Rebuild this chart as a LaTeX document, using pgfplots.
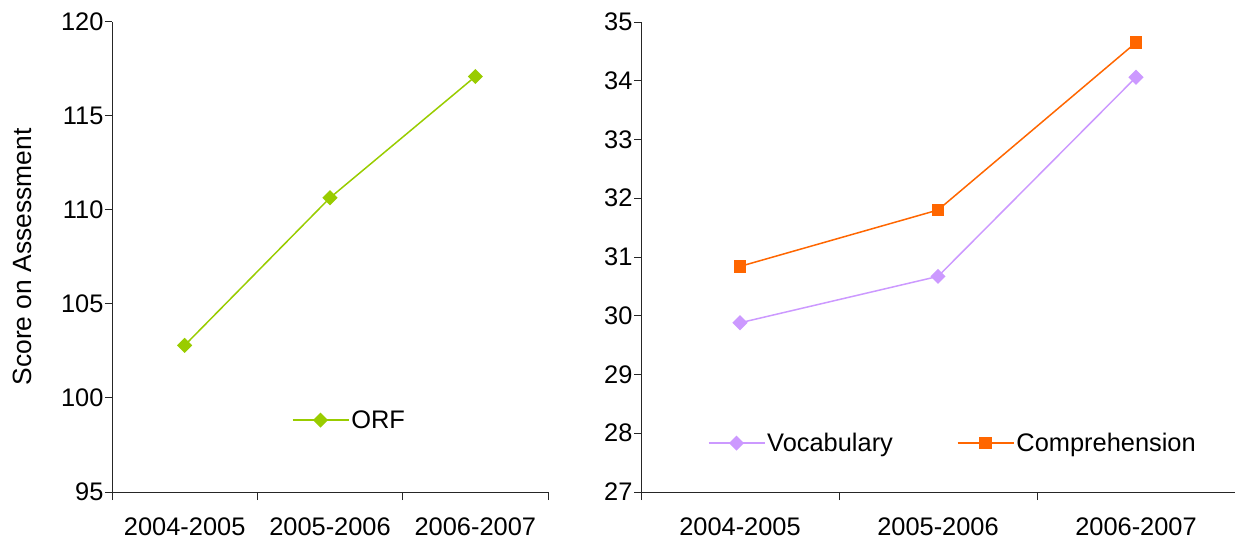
\documentclass[border=0pt]{standalone}
\usepackage{fontspec}
\setmainfont{Liberation Sans}
\usepackage{pgfplots}
\pgfplotsset{compat=1.18}
\definecolor{orfgreen}{HTML}{99CC00}
\definecolor{vocab}{HTML}{CC99FF}
\definecolor{compre}{HTML}{FF6600}
\pgfplotsset{
  common/.style={
    scale only axis,
    height=470bp,
    axis x line=bottom, axis y line=left,
    axis line style={-, line width=1bp, black!85},
    xmin=-0.5, xmax=2.5,
    xtick={0,1,2},
    xticklabels={2004-2005,2005-2006,2006-2007},
    minor xtick={-0.5,0.5,1.5,2.5},
    major x tick style={draw=none},
    minor tick length=8bp, major tick length=7bp,
    tick align=outside,
    tick style={line width=1bp, black!85},
    every tick label/.style={font=\fontsize{25.5}{30}\selectfont, text=black},
    xticklabel style={yshift=-15bp},
    yticklabel style={xshift=2bp},
    /pgf/number format/assume math mode=true,
    legend style={draw=none, fill=none, font=\fontsize{25.5}{30}\selectfont, anchor=west},
    legend cell align=left,
    legend image code/.code={\draw[mark repeat=2,mark phase=2] plot coordinates {(0bp,0bp) (28bp,0bp) (56bp,0bp)};},
  },
}
\begin{document}
\begin{tikzpicture}
\useasboundingbox (0,0) rectangle (1235bp,544bp);
\begin{axis}[common,
  at={(112bp,52bp)}, anchor=south west,
  width=436bp,
  ymin=95, ymax=120, ytick={95,100,...,120},
  ylabel={Score on Assessment},
  ylabel style={at={(axis description cs:-0.205,0.5)}, anchor=center, font=\fontsize{26.5}{30}\selectfont},
  legend style={at={(axis description cs:0.405,0.153)}},
]
\addplot[color=orfgreen, line width=1.5bp, mark=square*, mark size=4.6bp, mark options={rotate=45, solid}]
  coordinates {(0,102.8) (1,110.65) (2,117.1)};
\addlegendentry{ORF}
\end{axis}
\begin{axis}[common,
  at={(641bp,52bp)}, anchor=south west,
  width=594bp,
  ymin=27, ymax=35, ytick={27,28,...,35},
  legend columns=2,
  legend style={at={(axis description cs:0.107,0.104)}, /tikz/every even column/.append style={column sep=62bp}},
]
\addplot[color=vocab, line width=1.5bp, mark=square*, mark size=4.6bp, mark options={rotate=45, solid}]
  coordinates {(0,29.88) (1,30.67) (2,34.06)};
\addlegendentry{Vocabulary}
\addplot[color=compre, line width=1.5bp, mark=square*, mark size=5.5bp, mark options={solid}]
  coordinates {(0,30.84) (1,31.8) (2,34.65)};
\addlegendentry{Comprehension}
\end{axis}
\end{tikzpicture}
\end{document}
